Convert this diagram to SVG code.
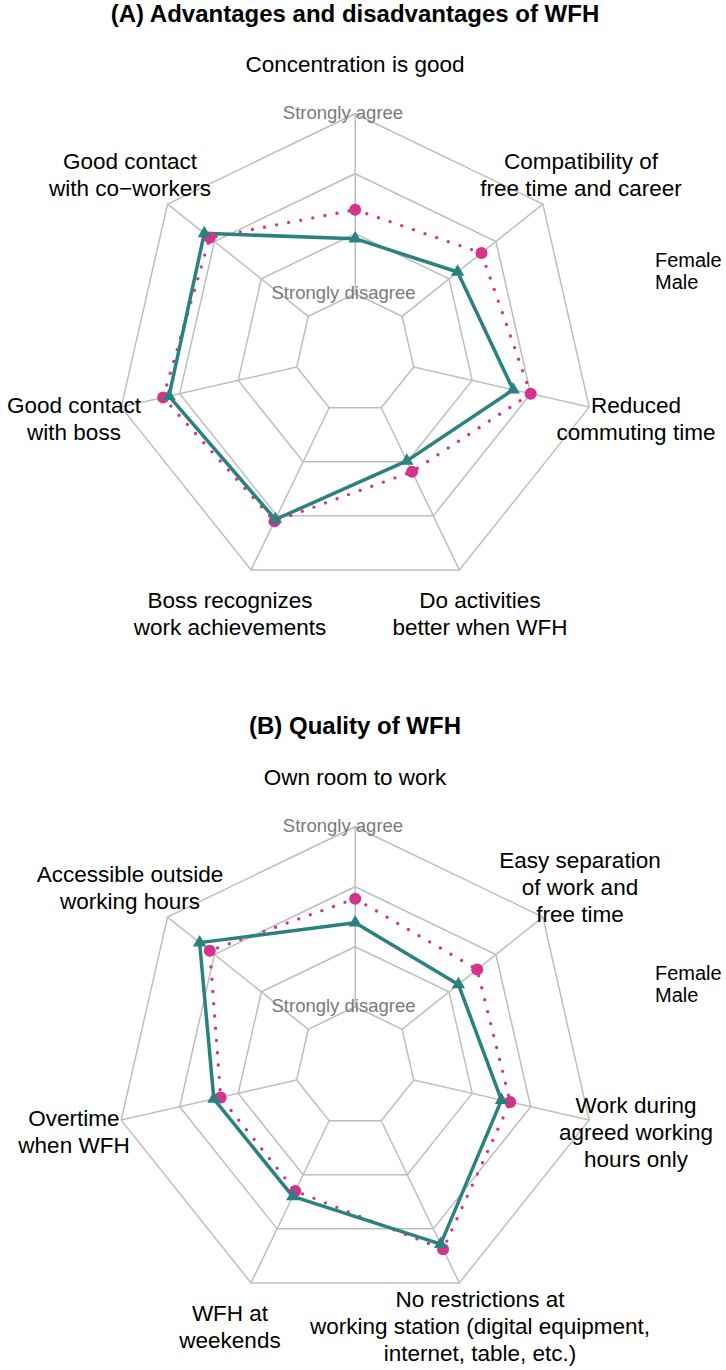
<svg xmlns="http://www.w3.org/2000/svg" xmlns:xlink="http://www.w3.org/1999/xlink" width="726" height="1370" viewBox="0 0 726 1370">
<style>
text{font-family:"Liberation Sans",Arial,Helvetica,sans-serif;fill:#000}
.title{font-size:24px;font-weight:bold;text-anchor:middle}
.ax{font-size:22.5px;text-anchor:middle}
.gl{font-size:18.5px;fill:#7a7a7a;text-anchor:middle}
.lg{font-size:20px}
.grid{fill:none;stroke:#bebebe;stroke-width:1.5}
.fem{fill:none;stroke:#d4338a;stroke-width:3.4;stroke-linecap:round;stroke-linejoin:round;stroke-dasharray:0 12.3}
.mal{fill:none;stroke:#2b817e;stroke-width:3.5;stroke-linejoin:round}
.fp{fill:#d4338a}
.mp{fill:#2b817e}
</style>
<defs>
<g id="gridshape">
<polygon class="grid" points="0,-60 46.91,-37.41 58.5,13.35 26.03,54.06 -26.03,54.06 -58.5,13.35 -46.91,-37.41"/>
<polygon class="grid" points="0,-120 93.82,-74.82 116.99,26.7 52.07,108.12 -52.07,108.12 -116.99,26.7 -93.82,-74.82"/>
<polygon class="grid" points="0,-180 140.73,-112.23 175.49,40.05 78.1,162.17 -78.1,162.17 -175.49,40.05 -140.73,-112.23"/>
<polygon class="grid" points="0,-240 187.64,-149.64 233.98,53.4 104.13,216.23 -104.13,216.23 -233.98,53.4 -187.64,-149.64"/>
<path class="grid" d="M0,-60V-240M46.91,-37.41L187.64,-149.64M58.5,13.35L233.98,53.4M26.03,54.06L104.13,216.23M-26.03,54.06L-104.13,216.23M-58.5,13.35L-233.98,53.4M-46.91,-37.41L-187.64,-149.64"/>
</g>
<circle id="dot" r="6"/>
<path id="tri" d="M0,-7.7L6.67,3.85L-6.67,3.85Z"/>
</defs>

<!-- Chart A -->
<g id="chartA">
<text class="title" x="355" y="22">(A) Advantages and disadvantages of WFH</text>
<g id="gridA" transform="translate(355.2,353.7)"><use xlink:href="#gridshape"/></g>
<g id="labelsA">
<text class="ax" x="355" y="72">Concentration is good</text>
<text class="ax" x="581" y="169">Compatibility of</text>
<text class="ax" x="581" y="196">free time and career</text>
<text class="ax" x="636" y="413">Reduced</text>
<text class="ax" x="636" y="440">commuting time</text>
<text class="ax" x="480" y="608">Do activities</text>
<text class="ax" x="480" y="635">better when WFH</text>
<text class="ax" x="230" y="608">Boss recognizes</text>
<text class="ax" x="230" y="635">work achievements</text>
<text class="ax" x="74" y="413">Good contact</text>
<text class="ax" x="74" y="440">with boss</text>
<text class="ax" x="130" y="169">Good contact</text>
<text class="ax" x="130" y="196">with co−workers</text>
<text class="gl" x="343" y="119">Strongly agree</text>
<text class="gl" x="343.5" y="299">Strongly disagree</text>
</g>
<g id="seriesA" transform="translate(355.2,353.7)">
<polygon id="femaleA" class="fem" points="0,-144 126.27,-100.69 175.49,40.05 56.84,118.03 -80.7,167.58 -192.06,43.84 -145.42,-115.97"/>
<polygon id="maleA" class="mal" points="0,-115 102.42,-81.68 157.94,36.05 51.63,107.22 -79.84,165.78 -186.21,42.5 -150.89,-120.33"/>
<g class="fp">
<use xlink:href="#dot" x="0" y="-144"/><use xlink:href="#dot" x="126.27" y="-100.69"/><use xlink:href="#dot" x="175.49" y="40.05"/><use xlink:href="#dot" x="56.84" y="118.03"/><use xlink:href="#dot" x="-80.7" y="167.58"/><use xlink:href="#dot" x="-192.06" y="43.84"/><use xlink:href="#dot" x="-145.42" y="-115.97"/>
</g>
<g class="mp">
<use xlink:href="#tri" x="0" y="-115"/><use xlink:href="#tri" x="102.42" y="-81.68"/><use xlink:href="#tri" x="157.94" y="36.05"/><use xlink:href="#tri" x="51.63" y="107.22"/><use xlink:href="#tri" x="-79.84" y="165.78"/><use xlink:href="#tri" x="-186.21" y="42.5"/><use xlink:href="#tri" x="-150.89" y="-120.33"/>
</g>
</g>
<g id="legendA">
<text class="lg" x="655" y="267">Female</text>
<text class="lg" x="655" y="289">Male</text>
</g>
</g>

<!-- Chart B -->
<g id="chartB">
<text class="title" x="355" y="734">(B) Quality of WFH</text>
<g id="gridB" transform="translate(355.2,1066.7)"><use xlink:href="#gridshape"/></g>
<g id="labelsB">
<text class="ax" x="355" y="785">Own room to work</text>
<text class="ax" x="580" y="868">Easy separation</text>
<text class="ax" x="580" y="895">of work and</text>
<text class="ax" x="580" y="922">free time</text>
<text class="ax" x="636" y="1113">Work during</text>
<text class="ax" x="636" y="1140">agreed working</text>
<text class="ax" x="636" y="1167">hours only</text>
<text class="ax" x="480" y="1307">No restrictions at</text>
<text class="ax" x="480" y="1334">working station (digital equipment,</text>
<text class="ax" x="480" y="1361">internet, table, etc.)</text>
<text class="ax" x="230" y="1321">WFH at</text>
<text class="ax" x="230" y="1348">weekends</text>
<text class="ax" x="74" y="1126">Overtime</text>
<text class="ax" x="74" y="1153">when WFH</text>
<text class="ax" x="130" y="882">Accessible outside</text>
<text class="ax" x="130" y="909">working hours</text>
<text class="gl" x="343" y="832">Strongly agree</text>
<text class="gl" x="343.5" y="1012">Strongly disagree</text>
</g>
<g id="seriesB" transform="translate(355.2,1066.7)">
<polygon id="femaleB" class="fem" points="0,-168 121.97,-97.26 155.01,35.38 87.86,182.45 -59.88,124.33 -134.54,30.71 -145.42,-115.97"/>
<polygon id="maleB" class="mal" points="0,-144 103.2,-82.3 146.24,33.38 85.47,177.49 -62.48,129.74 -141.36,32.27 -155.58,-124.07"/>
<g class="fp">
<use xlink:href="#dot" x="0" y="-168"/><use xlink:href="#dot" x="121.97" y="-97.26"/><use xlink:href="#dot" x="155.01" y="35.38"/><use xlink:href="#dot" x="87.86" y="182.45"/><use xlink:href="#dot" x="-59.88" y="124.33"/><use xlink:href="#dot" x="-134.54" y="30.71"/><use xlink:href="#dot" x="-145.42" y="-115.97"/>
</g>
<g class="mp">
<use xlink:href="#tri" x="0" y="-144"/><use xlink:href="#tri" x="103.2" y="-82.3"/><use xlink:href="#tri" x="146.24" y="33.38"/><use xlink:href="#tri" x="85.47" y="177.49"/><use xlink:href="#tri" x="-62.48" y="129.74"/><use xlink:href="#tri" x="-141.36" y="32.27"/><use xlink:href="#tri" x="-155.58" y="-124.07"/>
</g>
</g>
<g id="legendB">
<text class="lg" x="655" y="980">Female</text>
<text class="lg" x="655" y="1002">Male</text>
</g>
</g>
</svg>
